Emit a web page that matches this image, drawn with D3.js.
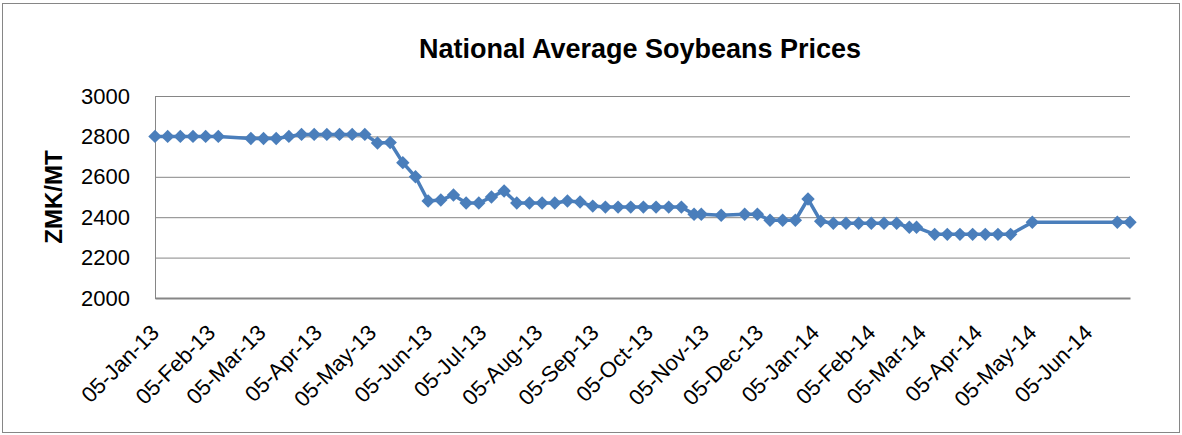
<!DOCTYPE html>
<html>
<head>
<meta charset="utf-8">
<script src="https://cdn.jsdelivr.net/npm/d3@7"></script>
<style>
  body { margin: 0; background: #fff; }
  text { font-family: "Liberation Sans", Arial, sans-serif; fill: #000; }
</style>
</head>
<body>
<svg id="chart"></svg>
<script>
// Weekly price readings (dates)
const dates = [
  '2013-01-05', '2013-01-12', '2013-01-19', '2013-01-26', '2013-02-02', '2013-02-09',
  '2013-02-27', '2013-03-06', '2013-03-13', '2013-03-20', '2013-03-27', '2013-04-03',
  '2013-04-10', '2013-04-17', '2013-04-24', '2013-05-01', '2013-05-08', '2013-05-15',
  '2013-05-22', '2013-05-29', '2013-06-05', '2013-06-12', '2013-06-19', '2013-06-26',
  '2013-07-03', '2013-07-10', '2013-07-17', '2013-07-24', '2013-07-31', '2013-08-07',
  '2013-08-14', '2013-08-21', '2013-08-28', '2013-09-04', '2013-09-11', '2013-09-18',
  '2013-09-25', '2013-10-02', '2013-10-09', '2013-10-16', '2013-10-23', '2013-10-30',
  '2013-11-03', '2013-11-14', '2013-11-27', '2013-12-04', '2013-12-11', '2013-12-18',
  '2013-12-25', '2014-01-01', '2014-01-08', '2014-01-15', '2014-01-22', '2014-01-29',
  '2014-02-05', '2014-02-12', '2014-02-19', '2014-02-26', '2014-03-02', '2014-03-12',
  '2014-03-19', '2014-03-26', '2014-04-02', '2014-04-09', '2014-04-16', '2014-04-23',
  '2014-05-05', '2014-06-21', '2014-06-28'
];

const prices = [
  2800, 2800, 2800, 2800, 2800, 2800,
  2790, 2790, 2790, 2800, 2810, 2810,
  2810, 2810, 2810, 2810, 2767, 2770,
  2670, 2600, 2480, 2485, 2510, 2470,
  2470, 2500, 2530, 2470, 2470, 2470,
  2470, 2480, 2475, 2455, 2450, 2450,
  2450, 2450, 2450, 2450, 2450, 2415,
  2415, 2410, 2415, 2415, 2385, 2385,
  2385, 2490, 2380, 2370, 2370, 2370,
  2370, 2370, 2370, 2350, 2350, 2315,
  2315, 2315, 2315, 2315, 2315, 2315,
  2375, 2375, 2375
];

const yTicks = [2000, 2200, 2400, 2600, 2800, 3000];

const xTicks = [
  '2013-01-05', '2013-02-05', '2013-03-05', '2013-04-05', '2013-05-05', '2013-06-05',
  '2013-07-05', '2013-08-05', '2013-09-05', '2013-10-05', '2013-11-05', '2013-12-05',
  '2014-01-05', '2014-02-05', '2014-03-05', '2014-04-05', '2014-05-05', '2014-06-05'
];

const title = 'National Average Soybeans Prices';
const yTitle = 'ZMK/MT';

class PriceChart {

  constructor(_config) {
    this.config = {
      parentElement: _config.parentElement,
      containerWidth: _config.containerWidth || 1182,
      containerHeight: _config.containerHeight || 435,
      margin: _config.margin || { top: 96, bottom: 137, right: 52, left: 155 }
    }

    this.width = this.config.containerWidth - this.config.margin.left - this.config.margin.right;
    this.height = this.config.containerHeight - this.config.margin.top - this.config.margin.bottom;
  }

  initVis() {
    let vis = this;
    let parse = d3.timeParse('%Y-%m-%d');

    vis.data = dates.map((d, i) => ({ date: parse(d), price: prices[i] }));
    vis.ticks = xTicks.map(parse);

    vis.svg = d3.select(vis.config.parentElement)
        .attr('width', vis.config.containerWidth)
        .attr('height', vis.config.containerHeight);

    // Outer chart border
    vis.svg.append('rect')
        .attr('x', 2.5)
        .attr('y', 3.5)
        .attr('width', vis.config.containerWidth - 5)
        .attr('height', vis.config.containerHeight - 6)
        .attr('fill', 'white')
        .attr('stroke', '#868686');

    vis.chart = vis.svg.append('g')
        .attr('transform', `translate(${vis.config.margin.left},${vis.config.margin.top})`);

    // Scales
    vis.x = d3.scaleTime()
        .domain(d3.extent(vis.data, d => d.date))
        .range([0, vis.width]);

    vis.y = d3.scaleLinear()
        .domain([2000, 3000])
        .range([vis.height, 0]);

    // Horizontal gridlines and y labels
    vis.yAxis = d3.axisLeft(vis.y)
        .tickValues(yTicks)
        .tickSize(-vis.width)
        .tickPadding(25)
        .tickFormat(d3.format('d'));

    vis.yAxisG = vis.chart.append('g')
        .call(vis.yAxis)
        .call(g => g.select('.domain').remove());

    vis.yAxisG.selectAll('line')
        .attr('stroke', '#868686');

    vis.yAxisG.selectAll('text')
        .attr('font-size', 22)
        .attr('font-family', '"Liberation Sans", Arial, sans-serif');

    // Left axis line
    vis.chart.append('line')
        .attr('x1', 0.5)
        .attr('x2', 0.5)
        .attr('y1', 0)
        .attr('y2', vis.height)
        .attr('stroke', '#868686');

    // Date axis along the bottom
    vis.xAxis = d3.axisBottom(vis.x)
        .tickValues(vis.ticks)
        .tickSize(0)
        .tickFormat(d3.timeFormat('%d-%b-%y'));

    vis.xAxisG = vis.chart.append('g')
        .attr('transform', `translate(0,${vis.height})`)
        .call(vis.xAxis);

    vis.xAxisG.select('.domain')
        .attr('stroke', '#868686')
        .attr('stroke-width', 2);

    vis.xAxisG.selectAll('text')
        .attr('font-size', 22)
        .attr('font-family', '"Liberation Sans", Arial, sans-serif')
        .attr('text-anchor', 'end')
        .attr('y', 0)
        .attr('dy', 0)
        .attr('transform', 'translate(5,36) rotate(-45)');

    // Title
    vis.svg.append('text')
        .attr('x', 640)
        .attr('y', 58)
        .attr('text-anchor', 'middle')
        .attr('font-size', 27)
        .attr('font-weight', 'bold')
        .text(title);

    // Y axis title
    vis.svg.append('text')
        .attr('transform', `translate(62,${vis.config.margin.top + vis.height / 2}) rotate(-90)`)
        .attr('text-anchor', 'middle')
        .attr('font-size', 24)
        .attr('font-weight', 'bold')
        .text(yTitle);
  }

  render() {
    let vis = this;

    vis.line = d3.line()
        .x(d => vis.x(d.date))
        .y(d => vis.y(d.price));

    vis.chart.append('path')
        .datum(vis.data)
        .attr('fill', 'none')
        .attr('stroke', '#4A7EBB')
        .attr('stroke-width', 3.5)
        .attr('stroke-linejoin', 'round')
        .attr('d', vis.line);

    vis.chart.selectAll('.marker')
        .data(vis.data)
      .join('path')
        .attr('class', 'marker')
        .attr('d', d3.symbol(d3.symbolSquare, 90))
        .attr('fill', '#4A7EBB')
        .attr('transform', d => `translate(${vis.x(d.date)},${vis.y(d.price)}) rotate(45)`);
  }
}

let chart = new PriceChart({ parentElement: '#chart' });
chart.initVis();
chart.render();
</script>
</body>
</html>
